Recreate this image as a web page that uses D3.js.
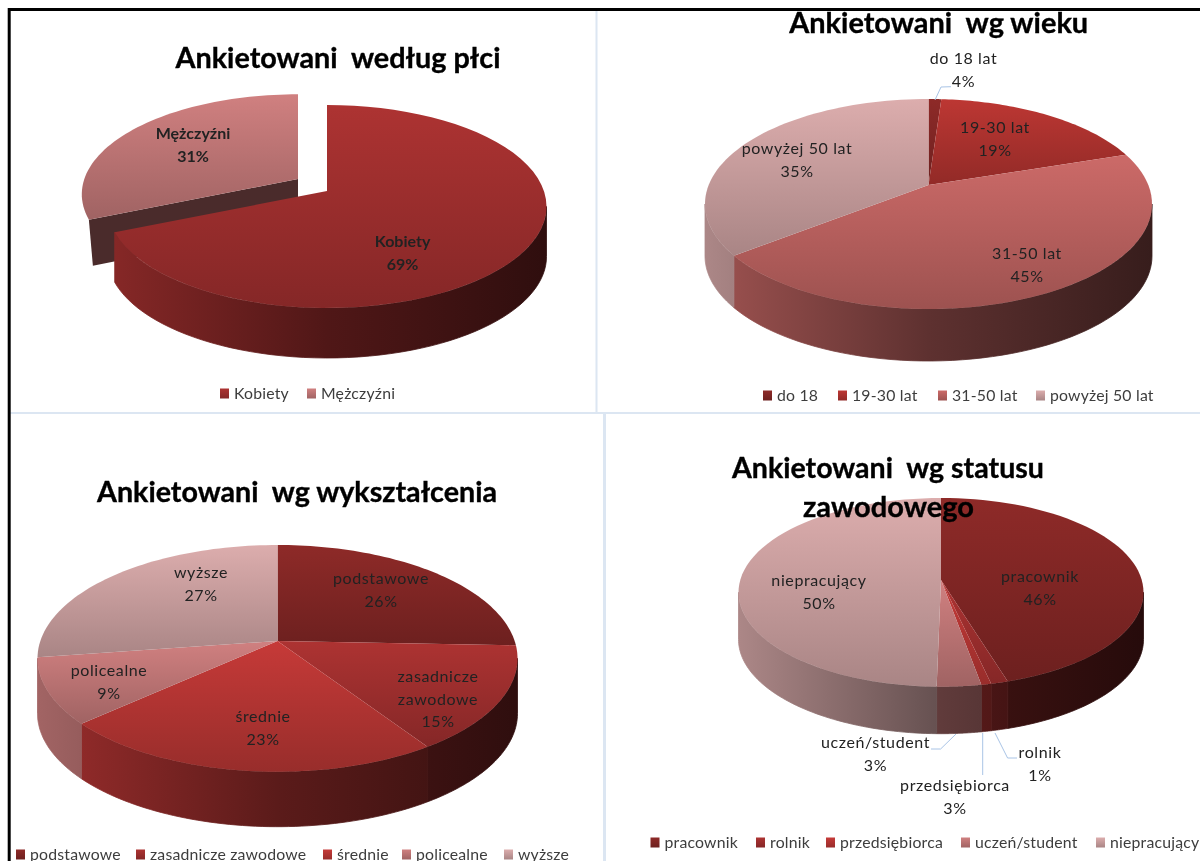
<!DOCTYPE html>
<html><head><meta charset="utf-8">
<script src="https://cdn.jsdelivr.net/npm/d3@7/dist/d3.min.js"></script>
<style>
html,body{margin:0;padding:0;background:#fff;overflow:hidden}
svg{display:block;filter:blur(0.45px)}
text{font-family:Lato,"Noto Sans",sans-serif}
</style></head><body>
<svg id="c" width="1200" height="861"></svg>
<script>
// ---------- data ----------
const genderCategories = ["Kobiety","Mężczyźni"];
const genderShares = [68.6,31.4];          // slice widths as drawn
const genderPercent = ["69%","31%"];
const genderColors = ["#ad3332","#d08080"];

const ageCategories = ["do 18","19-30 lat","31-50 lat","powyżej 50 lat"];
const ageLabels = [["do 18 lat"],["19-30 lat"],["31-50 lat"],["powyżej 50 lat"]];
const ageShares = [1.1,18.8,44.5,35.6];    // slice widths as drawn
const agePercent = ["4%","19%","45%","35%"];
const ageColors = ["#8e2a28","#bd3733","#cc6a68","#dcadad"];

const eduCategories = ["podstawowe","zasadnicze zawodowe","średnie","policealne","wyższe"];
const eduLabels = [["podstawowe"],["zasadnicze","zawodowe"],["średnie"],["policealne"],["wyższe"]];
const eduShares = [25.6,15.1,22.6,9.4,27.3]; // slice widths as drawn
const eduPercent = ["26%","15%","23%","9%","27%"];
const eduColors = ["#8e2a28","#ad3332","#c63a38","#d08080","#dcadad"];

const jobCategories = ["pracownik","rolnik","przedsiębiorca","uczeń/student","niepracujący"];
const jobShares = [45.3,1.2,0.7,3.1,49.7]; // slice widths as drawn
const jobPercent = ["46%","1%","3%","3%","50%"];
const jobColors = ["#8e2a28","#ad3332","#c63a38","#d08080","#dcadad"];

// ---------- layout ----------
const charts = [
 {id:"g",cats:genderCategories,labs:genderCategories.map(d=>[d]),shares:genderShares,pct:genderPercent,colors:genderColors,
  cx:327,ay:191,rx:219.5,top:86,bot:117,depth:50,explode:{1:[-29,-12,.985]},bold:true,
  title:[["Ankietowani  według płci",338,68,325]],
  labelPos:[[402.6,242],[193,134]],
  legendY:393,legendX:[220,307],
  leaders:[]},
 {id:"a",cats:ageCategories,labs:ageLabels,shares:ageShares,pct:agePercent,colors:ageColors,
  cx:928.5,ay:185,rx:223.5,top:86,bot:124,depth:52,explode:{},
  title:[["Ankietowani  wg wieku",938.7,33,299]],
  labelPos:[[963.5,59],[995,128],[1027,254],[797,149]],
  legendY:395,legendX:[763,838,938,1036],
  leaders:[[[951,86.7],[941,87],[935,100]]]},
 {id:"e",cats:eduCategories,labs:eduLabels,shares:eduShares,pct:eduPercent,colors:eduColors,
  cx:277.5,ay:641,rx:240,top:96,bot:130.7,depth:55,explode:{},
  title:[["Ankietowani  wg wykształcenia",297,502,400]],
  labelPos:[[381,579],[438,677],[263,717],[109,671],[201,573]],
  legendY:854,legendX:[16,136,323,402,504],
  leaders:[]},
 {id:"j",cats:jobCategories,labs:jobCategories.map(d=>[d]),shares:jobShares,pct:jobPercent,colors:jobColors,
  cx:941,ay:580,rx:202.5,top:82,bot:106.7,depth:47,explode:{},
  title:[["Ankietowani  wg statusu",888,478,312],["zawodowego",888.5,517,171]],
  labelPos:[[1040,577],[1040,753],[955,786],[875.5,743],[819,581]],
  legendY:842,legendX:[650.5,756,826,961,1096],
  leaders:[[[1017,758],[1007.6,758],[995,733]],[[982.7,775],[982.7,733]],[[931,749],[940.6,749],[956,734]]]}
];

const svg = d3.select("#c"), defs = svg.append("defs");
svg.append("rect").attr("width",1200).attr("height",861).attr("fill","#fff");

// panel dividers and frame
const panelLines = [[596.5,11,596.5,412,2],[10,413,1200,413,2],[604.5,414,604.5,861,3]];
svg.selectAll("line.p").data(panelLines).join("line").attr("class","p")
  .attr("x1",d=>d[0]).attr("y1",d=>d[1]).attr("x2",d=>d[2]).attr("y2",d=>d[3])
  .attr("stroke","#dce6f2").attr("stroke-width",d=>d[4]);
svg.append("path").attr("d","M1200,9.5H9.2V861").attr("fill","none").attr("stroke","#000").attr("stroke-width",3);

const scaleColor=(c,f)=>{const r=d3.rgb(c);return d3.rgb(r.r*f,r.g*f,r.b*f).formatHex();};
const line=d3.line();
const TAU=Math.PI*2;

charts.forEach((C)=>{
  const k=(C.bot-C.top)/(C.bot+C.top), b=C.top*(1+k), a=C.rx*Math.sqrt(1-k*k);
  const proj=(alpha,sc=1)=>{const u=Math.sin(alpha),v=-Math.cos(alpha),w=1-k*v;
    return [C.cx+sc*a*u/w, C.ay+sc*b*v/w];};
  const arcs=d3.pie().sort(null)(C.shares);
  const frontR=Math.acos(-k), frontL=TAU-frontR;
  const g=svg.append("g");
  const sample=(a0,a1,sc=1)=>d3.range(0,61).map(i=>proj(a0+(a1-a0)*i/60,sc));

  // gradients
  C.colors.forEach((col,i)=>{
    const t=defs.append("linearGradient").attr("id",`t-${C.id}-${i}`).attr("x1",0).attr("x2",0).attr("y1",0).attr("y2",1);
    t.append("stop").attr("offset",0).attr("stop-color",col);
    t.append("stop").attr("offset",1).attr("stop-color",scaleColor(col,.77));
    const w=defs.append("linearGradient").attr("id",`w-${C.id}-${i}`).attr("gradientUnits","userSpaceOnUse")
      .attr("x1",C.cx-C.rx).attr("x2",C.cx+C.rx).attr("y1",0).attr("y2",0);
    [[0,.78],[.5,.46],[1,.27]].forEach(s=>w.append("stop").attr("offset",s[0]).attr("stop-color",scaleColor(col,s[1])));
  });

  // draw exploded slices first, so the main body covers them
  const order=d3.range(arcs.length).sort((p,q)=>(C.explode[q]?1:0)-(C.explode[p]?1:0));
  order.forEach(i=>{
    const d=arcs[i], ex=C.explode[i], off=ex||[0,0,1], sc=off[2];
    const s=g.append("g").attr("transform",`translate(${off[0]},${off[1]})`);
    const a0=Math.max(d.startAngle,frontR), a1=Math.min(d.endAngle,frontL);
    if(a1>a0 && !ex){
      const top=sample(a0,a1), low=top.map(p=>[p[0],p[1]+C.depth]).reverse();
      s.append("path").attr("d",line([...top,...low])+"Z").attr("fill",`url(#w-${C.id}-${i})`)
        .attr("stroke",`url(#w-${C.id}-${i})`).attr("stroke-width",.8);
    }
    if(ex){ // cut face of the pulled-out slice
      const r=proj(d.startAngle,sc), ap=[C.cx,C.ay];
      s.append("path").attr("d",line([ap,r,[r[0]+4,r[1]+C.depth*.92],[ap[0],ap[1]+C.depth*.92]])+"Z").attr("fill","#4a2b2b");
    }
    s.append("path").attr("d",line([[C.cx,C.ay],...sample(d.startAngle,d.endAngle,sc)])+"Z")
      .attr("fill",`url(#t-${C.id}-${i})`);
  });

  // leader lines
  svg.append("g").selectAll("path").data(C.leaders).join("path")
    .attr("d",d=>line(d)).attr("fill","none").attr("stroke","#a9c4e6").attr("stroke-width",1);

  // data labels
  const lab=svg.append("g").attr("text-anchor","middle").attr("font-size",16).attr("letter-spacing",C.bold?0:.6).attr("fill","#222")
    .attr("font-weight",C.bold?700:400);
  C.labs.forEach((ls,i)=>{
    const [x,y]=C.labelPos[i];
    [...ls,C.pct[i]].forEach((t,j)=>lab.append("text").attr("x",x).attr("y",y+5+j*22.5).text(t));
  });

  // legend
  const leg=svg.append("g");
  C.cats.forEach((t,i)=>{
    const x=C.legendX[i];
    leg.append("rect").attr("x",x).attr("y",C.legendY-4.5).attr("width",9).attr("height",10).attr("fill",`url(#t-${C.id}-${i})`);
    leg.append("text").attr("x",x+14).attr("y",C.legendY+5.5).attr("font-size",15.8).attr("letter-spacing",.2).attr("fill","#3d3d3d").text(t);
  });

  C.ttl=C.title;
});

// titles sit above every pie
const titles=svg.append("g").attr("text-anchor","middle").attr("font-weight",700).attr("font-size",28).attr("fill","#000")
  .attr("stroke","#000").attr("stroke-width",.35);
charts.forEach(C=>C.ttl.forEach(([t,x,y,w])=>{
  titles.append("text").attr("x",x).attr("y",y).attr("xml:space","preserve").style("white-space","pre")
    .attr("textLength",w).attr("lengthAdjust","spacingAndGlyphs").text(t);
}));
</script>
</body></html>
